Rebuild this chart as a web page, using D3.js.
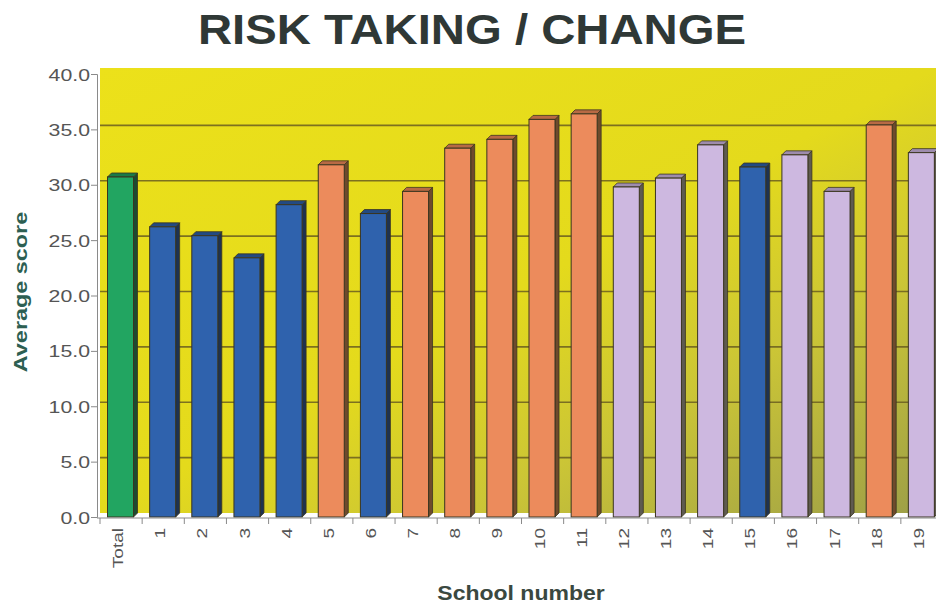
<!DOCTYPE html>
<html>
<head>
<meta charset="utf-8">
<script src="https://cdn.jsdelivr.net/npm/d3@7"></script>
<style>
  html, body { margin: 0; padding: 0; background: #fff; }
  svg { display: block; }
</style>
</head>
<body>
<svg id="chart" width="936" height="605"></svg>
<script>
// Categories along the x axis
const categories = ["Total", "1", "2", "3", "4", "5", "6", "7", "8", "9", "10",
  "11", "12", "13", "14", "15", "16", "17", "18", "19"];
// Average score per school
const scores = [30.7, 26.2, 25.4, 23.4, 28.2, 31.8, 27.4, 29.4, 33.3, 34.1, 35.9,
  36.4, 29.8, 30.6, 33.6, 31.6, 32.7, 29.4, 35.4, 32.9];
// Colour group per bar
const groups = ["total", "blue", "blue", "blue", "blue", "orange", "blue", "orange",
  "orange", "orange", "orange", "orange", "lilac", "lilac", "lilac", "blue", "lilac",
  "lilac", "orange", "lilac"];
// Y axis ticks
const yTicks = [0, 5, 10, 15, 20, 25, 30, 35, 40];

const palette = {
  total:  { front: "#22a561", top: "#1a7a48", side: "#1d4a30" },
  blue:   { front: "#2f62ad", top: "#234a82", side: "#1e3250" },
  orange: { front: "#ec8b5c", top: "#b86a44", side: "#6e4a2c" },
  lilac:  { front: "#cdb8e0", top: "#9e8cad", side: "#5e5a50" }
};

(function draw() {
  const svg = d3.select("#chart");
  const W = 936;
  const plotLeft = 100, plotRight = 943, plotBottom = 517, plotTop = 74;
  const depthX = 4, depthY = -4;
  const font = "Liberation Sans, Arial, sans-serif";

  const x = d3.scaleBand().domain(categories).range([plotLeft, plotRight]);
  const y = d3.scaleLinear().domain([0, 40]).range([plotBottom, plotTop]);

  // Wall gradient: yellow over most of the wall, turning olive toward bottom-right
  const defs = svg.append("defs");
  const grad = defs.append("linearGradient").attr("id", "wall")
    .attr("x1", "0%").attr("y1", "0%").attr("x2", "100%").attr("y2", "100%");
  grad.append("stop").attr("offset", "0%").attr("stop-color", "#ece11a");
  grad.append("stop").attr("offset", "50%").attr("stop-color", "#e4da1c");
  grad.append("stop").attr("offset", "72%").attr("stop-color", "#cbc536");
  grad.append("stop").attr("offset", "100%").attr("stop-color", "#9c9e48");

  // Back wall
  svg.append("rect")
    .attr("x", plotLeft).attr("y", y(40) + depthY - 2)
    .attr("width", W - plotLeft).attr("height", y(0) - y(40) + 2)
    .attr("fill", "url(#wall)");

  // Gridlines drawn on the back wall
  svg.append("g").selectAll("line")
    .data(yTicks.filter(d => d > 0 && d < 40))
    .join("line")
    .attr("x1", plotLeft).attr("x2", W)
    .attr("y1", d => y(d) + depthY).attr("y2", d => y(d) + depthY)
    .attr("stroke", "#6b5e20").attr("stroke-width", 1.6).attr("opacity", 0.85);

  // Bars with a shallow 3D extrusion
  const barW = 26, barOff = 7.5;
  const bars = svg.append("g").selectAll("g")
    .data(categories.map((c, i) => ({ c, v: scores[i], g: groups[i] })))
    .join("g");

  bars.append("path") // right side face
    .attr("d", d => {
      const x0 = x(d.c) + barOff + barW, y0 = y(d.v), y1 = y(0);
      return `M${x0},${y0} L${x0 + depthX},${y0 + depthY} L${x0 + depthX},${y1 + depthY} L${x0},${y1} Z`;
    })
    .attr("fill", d => palette[d.g].side)
    .attr("stroke", "#3a3520").attr("stroke-width", 0.8);

  bars.append("path") // top face
    .attr("d", d => {
      const x0 = x(d.c) + barOff, y0 = y(d.v);
      return `M${x0},${y0} L${x0 + depthX},${y0 + depthY} L${x0 + barW + depthX},${y0 + depthY} L${x0 + barW},${y0} Z`;
    })
    .attr("fill", d => palette[d.g].top)
    .attr("stroke", "#3a3520").attr("stroke-width", 0.8);

  bars.append("rect") // front face
    .attr("x", d => x(d.c) + barOff)
    .attr("y", d => y(d.v))
    .attr("width", barW)
    .attr("height", d => y(0) - y(d.v))
    .attr("fill", d => palette[d.g].front)
    .attr("stroke", "#3a3520").attr("stroke-width", 1);

  // Y axis
  const yAxis = svg.append("g").attr("transform", `translate(${plotLeft - 3},0)`)
    .call(d3.axisLeft(y).tickValues(yTicks).tickSize(6).tickFormat(""));
  yAxis.select(".domain").attr("stroke", "#8a8a8a");
  yAxis.selectAll(".tick line").attr("stroke", "#8a8a8a");
  yAxis.selectAll(".tick").append("text")
    .attr("transform", "translate(-7,6) scale(1.33,1)")
    .attr("text-anchor", "end")
    .attr("font-family", font)
    .attr("font-size", 16).attr("fill", "#555")
    .text(d => d3.format(".1f")(d));

  // X axis: ticks at category boundaries
  const xAxisG = svg.append("g");
  xAxisG.append("line")
    .attr("x1", plotLeft - 3).attr("x2", W).attr("y1", y(0) + 1).attr("y2", y(0) + 1)
    .attr("stroke", "#8a8a8a");
  xAxisG.selectAll("line.tick")
    .data(categories)
    .join("line").attr("class", "tick")
    .attr("x1", d => x(d)).attr("x2", d => x(d))
    .attr("y1", y(0) + 1).attr("y2", y(0) + 7)
    .attr("stroke", "#8a8a8a");
  xAxisG.selectAll("text")
    .data(categories)
    .join("text")
    .attr("transform", d => `translate(${x(d) + x.bandwidth() / 2 + 2},${y(0) + 11}) rotate(-90) scale(1.27,1)`)
    .attr("text-anchor", "end")
    .attr("font-family", font)
    .attr("font-size", 15).attr("fill", "#555")
    .text(d => d);

  // Titles
  svg.append("text")
    .attr("transform", "translate(472,44) scale(1.1,1)")
    .attr("text-anchor", "middle")
    .attr("font-family", font)
    .attr("font-weight", "bold").attr("font-size", 43)
    .attr("fill", "#2f3836")
    .text("RISK TAKING / CHANGE");

  svg.append("text")
    .attr("transform", "translate(27,292) rotate(-90) scale(1.3,1)")
    .attr("text-anchor", "middle")
    .attr("font-family", font)
    .attr("font-weight", "bold").attr("font-size", 18)
    .attr("fill", "#2d5f52")
    .text("Average score");

  svg.append("text")
    .attr("transform", "translate(521,600) scale(1.15,1)")
    .attr("text-anchor", "middle")
    .attr("font-family", font)
    .attr("font-weight", "bold").attr("font-size", 20)
    .attr("fill", "#3a4840")
    .text("School number");
})();
</script>
</body>
</html>
